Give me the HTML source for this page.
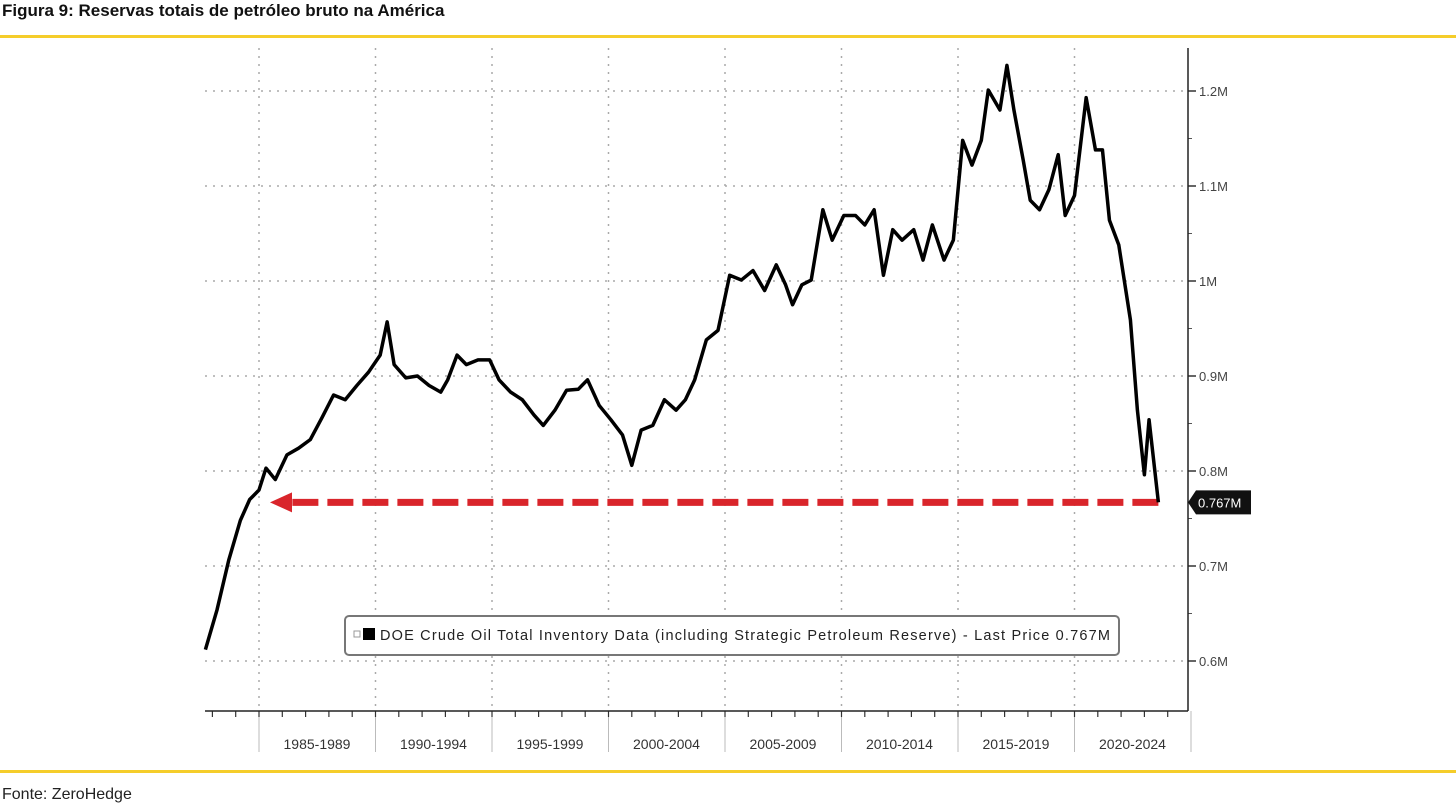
<!DOCTYPE html>
<html><head><meta charset="utf-8"><style>
body{margin:0;background:#fff;width:1456px;height:810px;overflow:hidden;font-family:"Liberation Sans",sans-serif;}
#title{position:absolute;left:2px;top:1px;font-size:17px;font-weight:bold;color:#111;}
.rule{position:absolute;left:0;width:1456px;height:3px;background:#f5cd2a;}
#src{position:absolute;left:2px;top:786px;font-size:16px;color:#222;}
svg{position:absolute;left:0;top:0;}
</style></head><body>
<div id="title">Figura 9: Reservas totais de petróleo bruto na América</div>
<div class="rule" style="top:35px"></div>
<div class="rule" style="top:770px"></div>
<div id="src">Fonte: ZeroHedge</div>
<svg id="chart" width="1456" height="810"></svg>
<script>
const years=[1982.7,1983.2,1983.7,1984.2,1984.6,1985,1985.3,1985.7,1986.2,1986.7,1987.2,1987.7,1988.2,1988.7,1989.2,1989.7,1990.2,1990.5,1990.8,1991.3,1991.8,1992.3,1992.8,1993.1,1993.5,1993.9,1994.4,1994.9,1995.3,1995.8,1996.3,1996.8,1997.2,1997.7,1998.2,1998.7,1999.1,1999.6,2000.1,2000.6,2001.0,2001.4,2001.9,2002.4,2002.9,2003.3,2003.7,2004.2,2004.7,2005.2,2005.7,2006.2,2006.7,2007.2,2007.6,2007.9,2008.3,2008.7,2009.2,2009.6,2010.1,2010.6,2011.0,2011.4,2011.8,2012.2,2012.6,2013.1,2013.5,2013.9,2014.4,2014.8,2015.2,2015.6,2016.0,2016.3,2016.8,2017.1,2017.4,2017.8,2018.1,2018.5,2018.9,2019.3,2019.6,2020.0,2020.5,2020.9,2021.2,2021.5,2021.9,2022.4,2022.7,2023.0,2023.2,2023.6];
const values=[0.612,0.654,0.706,0.748,0.77,0.78,0.803,0.791,0.817,0.824,0.833,0.856,0.88,0.875,0.89,0.904,0.922,0.957,0.912,0.898,0.9,0.89,0.883,0.896,0.922,0.912,0.917,0.917,0.896,0.883,0.875,0.859,0.848,0.864,0.885,0.886,0.896,0.869,0.854,0.838,0.806,0.843,0.848,0.875,0.864,0.875,0.896,0.938,0.948,1.006,1.001,1.011,0.99,1.017,0.996,0.975,0.996,1.001,1.075,1.043,1.069,1.069,1.059,1.075,1.006,1.054,1.043,1.054,1.022,1.059,1.022,1.043,1.148,1.122,1.148,1.201,1.18,1.227,1.18,1.127,1.085,1.075,1.096,1.133,1.069,1.09,1.193,1.138,1.138,1.064,1.038,0.959,0.864,0.796,0.854,0.767];
const yTicks=[0.6,0.7,0.8,0.9,1.0,1.1,1.2];
const yTickLabels=["0.6M","0.7M","0.8M","0.9M","1M","1.1M","1.2M"];
const periods=["1985-1989","1990-1994","1995-1999","2000-2004","2005-2009","2010-2014","2015-2019","2020-2024"];
const lastValue=0.767;

const NS="http://www.w3.org/2000/svg";
const svg=document.getElementById('chart');
const X=y=>259+(y-1985)*23.3;
const Y=v=>91+(1.2-v)*950;
function el(t,a,p){const e=document.createElementNS(NS,t);for(const k in a)e.setAttribute(k,a[k]);(p||svg).appendChild(e);return e;}

// horizontal gridlines + y labels
yTicks.forEach((v,i)=>{
  const g=el('line',{x1:205,x2:1188,y1:Y(v),y2:Y(v),stroke:'#aaa','stroke-width':1.5,'stroke-dasharray':'2,6'});
  
  
  el('line',{x1:1188,x2:1196,y1:Y(v),y2:Y(v),stroke:'#333','stroke-width':1.5});
  const t=el('text',{x:1199,y:Y(v)+5,'font-size':13,fill:'#444','font-family':'Liberation Sans, sans-serif'});
  t.textContent=yTickLabels[i];
  
  
});
// minor right ticks
for(let v=0.65;v<1.25;v+=0.1){el('line',{x1:1188,x2:1192,y1:Y(v),y2:Y(v),stroke:'#555','stroke-width':1});}
// vertical gridlines & period labels
periods.forEach((p,i)=>{
  const x=X(1985+5*i);
  const g=el('line',{x1:x,x2:x,y1:48,y2:711,stroke:'#aaa','stroke-width':1.5,'stroke-dasharray':'2,6'});
  
  
  el('line',{x1:x,x2:x,y1:711,y2:752,stroke:'#bbb','stroke-width':1});
  const t=el('text',{x:x+58,y:749,'font-size':14,fill:'#333','text-anchor':'middle','font-family':'Liberation Sans, sans-serif'});
  t.textContent=p;
  
  
});
el('line',{x1:X(2025),x2:X(2025),y1:711,y2:752,stroke:'#bbb','stroke-width':1});
// yearly ticks
for(let y=1983;y<=2024;y++){el('line',{x1:X(y),x2:X(y),y1:711,y2:717,stroke:'#333','stroke-width':1.2});}
// axes
const ax=el('line',{x1:205,x2:1188,y1:711,y2:711,stroke:'#222','stroke-width':1.5});


const ay=el('line',{x1:1188,x2:1188,y1:48,y2:711,stroke:'#222','stroke-width':1.5});



// red dashed arrow
const ly=Y(lastValue);
const dl=el('line',{x1:X(years[years.length-1]),x2:290,y1:ly,y2:ly,stroke:'#d9252b','stroke-width':7,'stroke-dasharray':'26,9'});


const ah=el('polygon',{points:`270,${ly} 292,${ly-10} 292,${ly+10}`,fill:'#d9252b'});



// series line
const pl=el('polyline',{points:years.map((y,i)=>X(y)+','+Y(values[i])).join(' '),fill:'none',stroke:'#000','stroke-width':3.5,'stroke-linejoin':'round'});



// last value label
const lb=el('path',{d:`M1188,${ly} L1196,${ly-12} L1251,${ly-12} L1251,${ly+12} L1196,${ly+12} Z`,fill:'#111'});


const lt=el('text',{x:1198,y:ly+5,'font-size':13,fill:'#fff','font-family':'Liberation Sans, sans-serif'});
lt.textContent=lastValue+'M';



// legend
const lg=el('rect',{x:345,y:616,width:774,height:39,rx:4,fill:'#fff',stroke:'#777','stroke-width':2});


el('rect',{x:354,y:631,width:6,height:6,fill:'none',stroke:'#999','stroke-width':1});
const sw=el('rect',{x:363,y:628,width:12,height:12,fill:'#000'});


const tt=el('text',{x:380,y:640,'font-size':14.5,fill:'#222','font-family':'Liberation Sans, sans-serif',textLength:730});
tt.textContent='DOE Crude Oil Total Inventory Data (including Strategic Petroleum Reserve) - Last Price 0.767M';


</script>
</body></html>
